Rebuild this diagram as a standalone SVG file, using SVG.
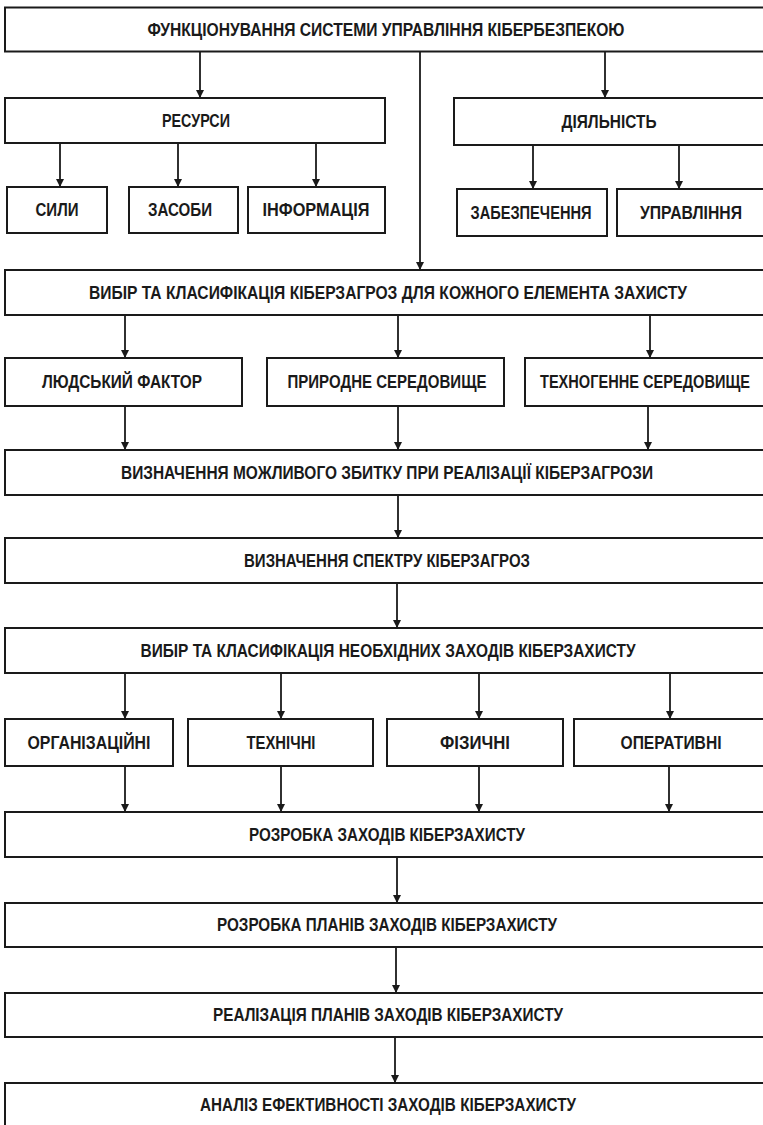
<svg xmlns="http://www.w3.org/2000/svg" width="763" height="1125" viewBox="0 0 763 1125">
<defs>
<marker id="arr" markerUnits="userSpaceOnUse" markerWidth="8" markerHeight="9" refX="8" refY="4" orient="auto">
<path d="M0,0 L8,4 L0,8 z" fill="#1a1a1a"/>
</marker>
<style>
rect{fill:#fff;stroke:#1a1a1a;stroke-width:2}
text{font-family:"Liberation Sans",Arial,sans-serif;font-weight:bold;font-size:17.5px;fill:#1a1a1a;text-anchor:middle}
.c line{stroke:#1a1a1a;stroke-width:1.8;marker-end:url(#arr)}
</style>
</defs>
<rect x="0" y="0" width="763" height="1125" style="fill:#fff;stroke:none"/>
<g class="c" id="connectors">
<line x1="200" y1="52" x2="200" y2="98"/>
<line x1="420" y1="52" x2="420" y2="270"/>
<line x1="605" y1="52" x2="605" y2="98"/>
<line x1="60" y1="143" x2="60" y2="187"/>
<line x1="178" y1="143" x2="178" y2="187"/>
<line x1="316" y1="143" x2="316" y2="187"/>
<line x1="533" y1="145" x2="533" y2="189"/>
<line x1="679" y1="145" x2="679" y2="189"/>
<line x1="125" y1="315" x2="125" y2="358"/>
<line x1="398" y1="315" x2="398" y2="358"/>
<line x1="650" y1="315" x2="650" y2="358"/>
<line x1="125" y1="406" x2="125" y2="450"/>
<line x1="398" y1="406" x2="398" y2="450"/>
<line x1="648" y1="406" x2="648" y2="450"/>
<line x1="398" y1="495" x2="398" y2="538"/>
<line x1="397" y1="583" x2="397" y2="628"/>
<line x1="125" y1="673" x2="125" y2="719"/>
<line x1="281" y1="673" x2="281" y2="719"/>
<line x1="479" y1="673" x2="479" y2="719"/>
<line x1="670" y1="673" x2="670" y2="719"/>
<line x1="125" y1="766" x2="125" y2="812"/>
<line x1="281" y1="766" x2="281" y2="812"/>
<line x1="479" y1="766" x2="479" y2="812"/>
<line x1="669" y1="766" x2="669" y2="812"/>
<line x1="397" y1="857" x2="397" y2="903"/>
<line x1="396" y1="947" x2="396" y2="993"/>
<line x1="395" y1="1037" x2="395" y2="1083"/>
</g>
<g id="n-top"><rect x="5" y="7.5" width="765" height="44"/><text x="386" y="36" textLength="477" lengthAdjust="spacingAndGlyphs">ФУНКЦІОНУВАННЯ СИСТЕМИ УПРАВЛІННЯ КІБЕРБЕЗПЕКОЮ</text></g>
<g id="n-resursy"><rect x="5" y="98" width="380" height="45"/><text x="196" y="127" textLength="68" lengthAdjust="spacingAndGlyphs">РЕСУРСИ</text></g>
<g id="n-diyalnist"><rect x="454" y="98" width="316" height="47"/><text x="609" y="128" textLength="95" lengthAdjust="spacingAndGlyphs">ДІЯЛЬНІСТЬ</text></g>
<g id="n-syly"><rect x="7" y="187" width="100" height="46"/><text x="57" y="216" textLength="43" lengthAdjust="spacingAndGlyphs">СИЛИ</text></g>
<g id="n-zasoby"><rect x="129" y="187" width="109" height="46"/><text x="180" y="216" textLength="64" lengthAdjust="spacingAndGlyphs">ЗАСОБИ</text></g>
<g id="n-informatsiya"><rect x="248" y="187" width="137" height="46"/><text x="316" y="216" textLength="107" lengthAdjust="spacingAndGlyphs">ІНФОРМАЦІЯ</text></g>
<g id="n-zabezpechennya"><rect x="457" y="189" width="150" height="47"/><text x="531" y="219" textLength="121" lengthAdjust="spacingAndGlyphs">ЗАБЕЗПЕЧЕННЯ</text></g>
<g id="n-upravlinnya"><rect x="617" y="189" width="153" height="47"/><text x="691" y="219" textLength="102" lengthAdjust="spacingAndGlyphs">УПРАВЛІННЯ</text></g>
<g id="n-vybir1"><rect x="5" y="270" width="765" height="45"/><text x="388" y="299" textLength="598" lengthAdjust="spacingAndGlyphs">ВИБІР ТА КЛАСИФІКАЦІЯ КІБЕРЗАГРОЗ ДЛЯ КОЖНОГО ЕЛЕМЕНТА ЗАХИСТУ</text></g>
<g id="n-lyudskyi"><rect x="5" y="358" width="237" height="48"/><text x="122" y="388" textLength="160" lengthAdjust="spacingAndGlyphs">ЛЮДСЬКИЙ ФАКТОР</text></g>
<g id="n-pryrodne"><rect x="267" y="358" width="237" height="48"/><text x="387" y="388" textLength="199" lengthAdjust="spacingAndGlyphs">ПРИРОДНЕ СЕРЕДОВИЩЕ</text></g>
<g id="n-tekhnogenne"><rect x="525" y="358" width="245" height="48"/><text x="645" y="388" textLength="210" lengthAdjust="spacingAndGlyphs">ТЕХНОГЕННЕ СЕРЕДОВИЩЕ</text></g>
<g id="n-zbytok"><rect x="5" y="450" width="765" height="45"/><text x="387" y="479" textLength="532" lengthAdjust="spacingAndGlyphs">ВИЗНАЧЕННЯ МОЖЛИВОГО ЗБИТКУ ПРИ РЕАЛІЗАЦІЇ КІБЕРЗАГРОЗИ</text></g>
<g id="n-spektr"><rect x="5" y="538" width="765" height="45"/><text x="387" y="567" textLength="286" lengthAdjust="spacingAndGlyphs">ВИЗНАЧЕННЯ СПЕКТРУ КІБЕРЗАГРОЗ</text></g>
<g id="n-vybir2"><rect x="5" y="628" width="765" height="45"/><text x="388" y="657" textLength="495" lengthAdjust="spacingAndGlyphs">ВИБІР ТА КЛАСИФІКАЦІЯ НЕОБХІДНИХ ЗАХОДІВ КІБЕРЗАХИСТУ</text></g>
<g id="n-org"><rect x="5" y="719" width="168" height="47"/><text x="89" y="749" textLength="123" lengthAdjust="spacingAndGlyphs">ОРГАНІЗАЦІЙНІ</text></g>
<g id="n-tekh"><rect x="188" y="719" width="185" height="47"/><text x="281" y="749" textLength="69" lengthAdjust="spacingAndGlyphs">ТЕХНІЧНІ</text></g>
<g id="n-fiz"><rect x="387" y="719" width="176" height="47"/><text x="475" y="749" textLength="70" lengthAdjust="spacingAndGlyphs">ФІЗИЧНІ</text></g>
<g id="n-oper"><rect x="574" y="719" width="196" height="47"/><text x="671" y="749" textLength="101" lengthAdjust="spacingAndGlyphs">ОПЕРАТИВНІ</text></g>
<g id="n-rozrobka"><rect x="5" y="812" width="765" height="45"/><text x="387" y="841" textLength="276" lengthAdjust="spacingAndGlyphs">РОЗРОБКА ЗАХОДІВ КІБЕРЗАХИСТУ</text></g>
<g id="n-plany"><rect x="5" y="903" width="765" height="44"/><text x="387" y="931" textLength="340" lengthAdjust="spacingAndGlyphs">РОЗРОБКА ПЛАНІВ ЗАХОДІВ КІБЕРЗАХИСТУ</text></g>
<g id="n-realizatsiya"><rect x="5" y="993" width="765" height="44"/><text x="388" y="1021" textLength="350" lengthAdjust="spacingAndGlyphs">РЕАЛІЗАЦІЯ ПЛАНІВ ЗАХОДІВ КІБЕРЗАХИСТУ</text></g>
<g id="n-analiz"><rect x="5" y="1083" width="765" height="50"/><text x="388" y="1111" textLength="376" lengthAdjust="spacingAndGlyphs">АНАЛІЗ ЕФЕКТИВНОСТІ ЗАХОДІВ КІБЕРЗАХИСТУ</text></g>
</svg>
